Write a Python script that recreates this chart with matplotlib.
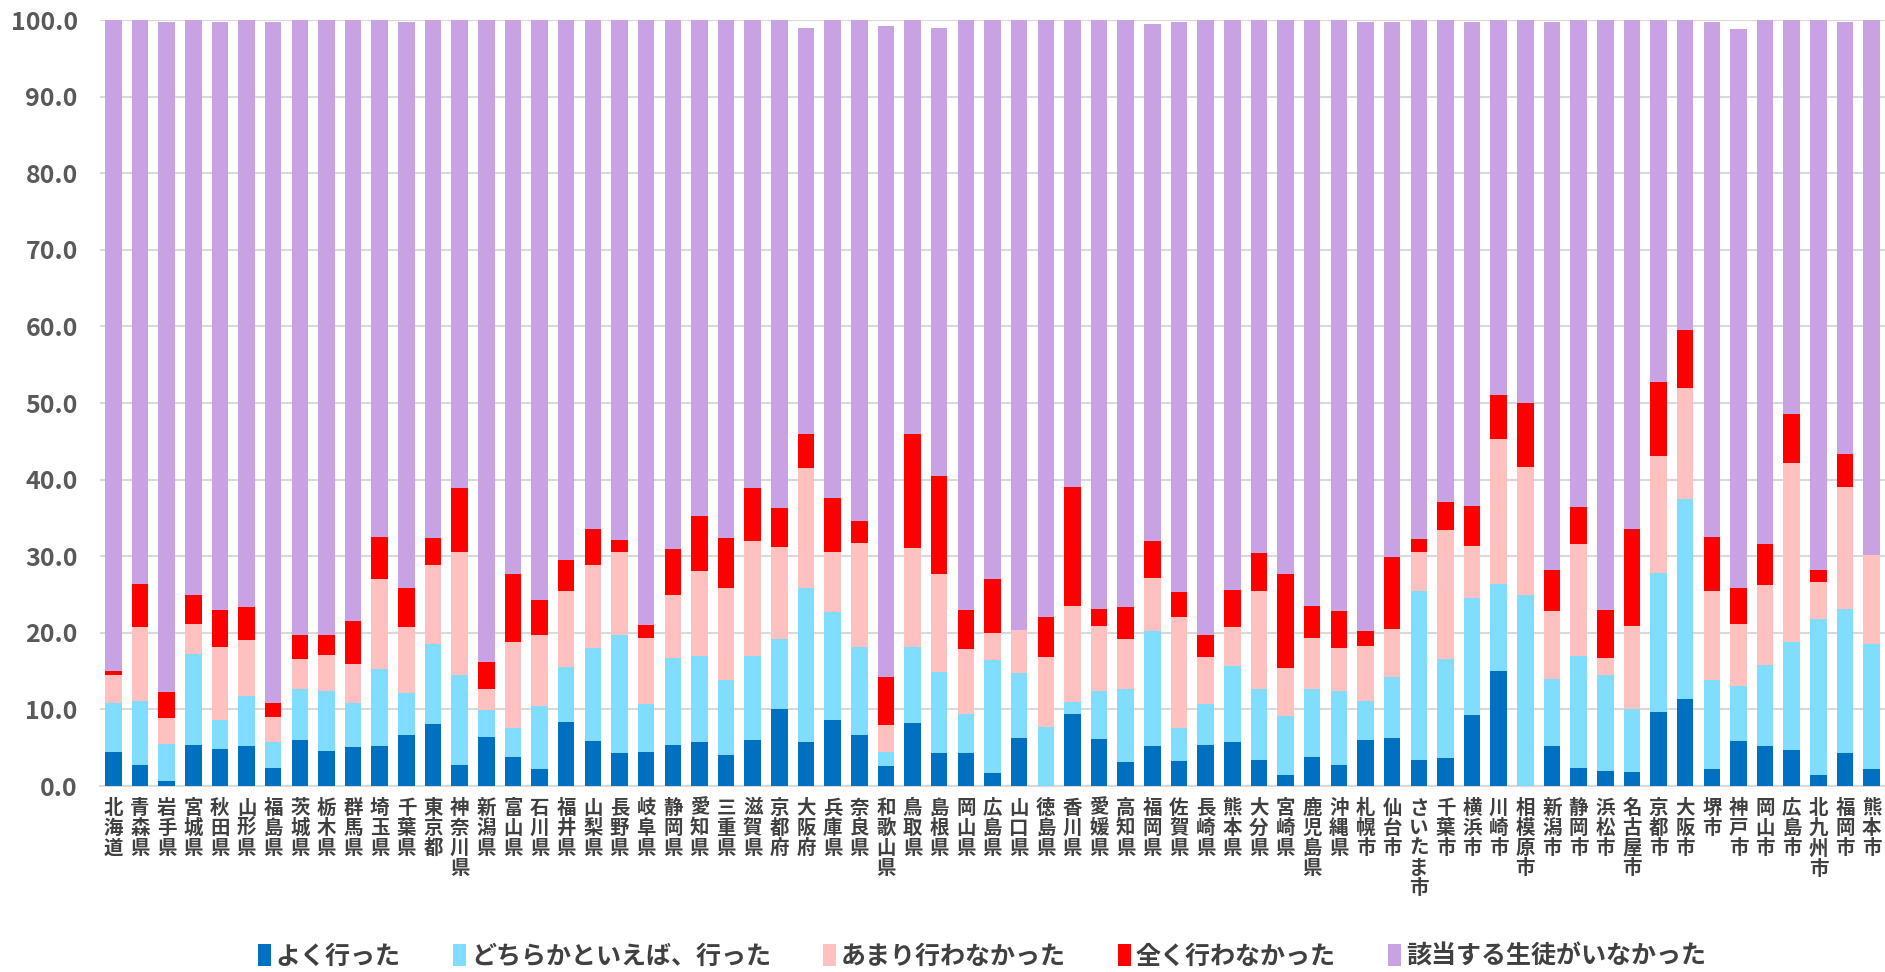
import numpy as np
import matplotlib
matplotlib.use("Agg")
import matplotlib.pyplot as plt

plt.rcParams['font.family'] = ['Noto Sans CJK JP', 'DejaVu Sans']

# categories (47 prefectures + 20 designated cities)
areas = ["北海道", "青森県", "岩手県", "宮城県", "秋田県", "山形県", "福島県", "茨城県", "栃木県", "群馬県",
         "埼玉県", "千葉県", "東京都", "神奈川県", "新潟県", "富山県", "石川県", "福井県", "山梨県", "長野県",
         "岐阜県", "静岡県", "愛知県", "三重県", "滋賀県", "京都府", "大阪府", "兵庫県", "奈良県", "和歌山県",
         "鳥取県", "島根県", "岡山県", "広島県", "山口県", "徳島県", "香川県", "愛媛県", "高知県", "福岡県",
         "佐賀県", "長崎県", "熊本県", "大分県", "宮崎県", "鹿児島県", "沖縄県",
         "札幌市", "仙台市", "さいたま市", "千葉市", "横浜市", "川崎市", "相模原市", "新潟市", "静岡市", "浜松市",
         "名古屋市", "京都市", "大阪市", "堺市", "神戸市", "岡山市", "広島市", "北九州市", "福岡市", "熊本市"]

# よく行った
often = [4.5, 2.7, 0.7, 5.4, 4.8, 5.2, 2.4, 6.0, 4.6, 5.1,
         5.2, 6.7, 8.1, 2.7, 6.4, 3.8, 2.2, 8.4, 5.9, 4.3,
         4.4, 5.4, 5.7, 4.0, 6.0, 10.1, 5.8, 8.6, 6.7, 2.6,
         8.2, 4.3, 4.3, 1.7, 6.3, 0.0, 9.4, 6.1, 3.1, 5.2,
         3.3, 5.4, 5.7, 3.4, 1.5, 3.8, 2.7,
         6.0, 6.3, 3.4, 3.7, 9.3, 15.0, 0.0, 5.2, 2.4, 2.0,
         1.8, 9.7, 11.4, 2.2, 5.9, 5.2, 4.7, 1.4, 4.3, 2.2]
# どちらかといえば、行った
rather = [6.3, 8.4, 4.8, 11.8, 3.8, 6.5, 3.3, 6.7, 7.8, 5.7,
          10.1, 5.4, 10.5, 11.8, 3.5, 3.8, 8.2, 7.1, 12.1, 15.4,
          6.3, 11.3, 11.3, 9.9, 11.0, 9.1, 20.1, 14.1, 11.5, 1.9,
          9.9, 10.6, 5.1, 14.8, 8.5, 7.7, 1.6, 6.3, 9.6, 15.1,
          4.3, 5.3, 10.0, 9.3, 7.7, 8.9, 9.7,
          5.1, 7.9, 22.0, 12.9, 15.3, 11.4, 24.9, 8.8, 14.6, 12.5,
          8.2, 18.1, 26.1, 11.7, 7.1, 10.6, 14.1, 20.4, 18.8, 16.3]
# あまり行わなかった
seldom = [3.7, 9.7, 3.4, 3.9, 9.6, 7.4, 3.3, 3.9, 4.7, 5.1,
          11.7, 8.6, 10.3, 16.1, 2.8, 11.2, 9.3, 9.9, 10.8, 10.9,
          8.6, 8.2, 11.1, 11.9, 15.0, 12.0, 15.6, 7.8, 13.5, 3.5,
          13.0, 12.8, 8.5, 3.5, 5.6, 9.2, 12.5, 8.5, 6.5, 6.8,
          14.5, 6.1, 5.0, 12.7, 6.2, 6.6, 5.6,
          7.2, 6.3, 5.1, 16.8, 6.7, 18.9, 16.8, 8.9, 14.6, 2.2,
          10.9, 15.3, 14.5, 11.6, 8.2, 10.5, 23.4, 4.8, 15.9, 11.7]
# 全く行わなかった
never = [0.5, 5.6, 3.4, 3.8, 4.8, 4.3, 1.8, 3.1, 2.6, 5.7,
         5.5, 5.1, 3.5, 8.3, 3.5, 8.9, 4.6, 4.1, 4.8, 1.5,
         1.7, 6.0, 7.1, 6.6, 6.9, 5.1, 4.4, 7.1, 2.9, 6.2,
         14.8, 12.8, 5.1, 7.0, 0.0, 5.2, 15.5, 2.2, 4.2, 4.9,
         3.2, 2.9, 4.9, 5.0, 12.3, 4.2, 4.8,
         2.0, 9.4, 1.7, 3.7, 5.3, 5.7, 8.3, 5.3, 4.8, 6.3,
         12.7, 9.7, 7.5, 7.0, 4.7, 5.3, 6.3, 1.6, 4.3, 0.0]
# 該当する生徒がいなかった
none_ = [85.0, 73.6, 87.5, 75.1, 76.8, 76.6, 88.9, 80.3, 80.3, 78.4,
         67.5, 73.9, 67.6, 61.1, 83.8, 72.3, 75.7, 70.5, 66.4, 67.9,
         79.0, 69.1, 64.8, 67.6, 61.1, 63.7, 53.1, 62.4, 65.4, 85.0,
         54.1, 58.5, 77.0, 73.0, 79.6, 77.9, 61.0, 76.9, 76.6, 67.5,
         74.5, 80.3, 74.4, 69.6, 72.3, 76.5, 77.2,
         79.5, 69.8, 67.8, 62.9, 63.2, 49.0, 50.0, 71.6, 63.6, 77.0,
         66.4, 47.2, 40.5, 67.3, 72.9, 68.4, 51.5, 71.8, 56.5, 69.8]

series = [
    ("よく行った", often, "#0070C0"),
    ("どちらかといえば、行った", rather, "#80DDFF"),
    ("あまり行わなかった", seldom, "#FFC0C0"),
    ("全く行わなかった", never, "#FF0000"),
    ("該当する生徒がいなかった", none_, "#C8A2E3"),
]

fig = plt.figure(figsize=(18.85, 9.72), dpi=100)
ax = fig.add_axes([100 / 1885, 186 / 972, 1785 / 1885, 766 / 972])

x = np.arange(len(areas))
bottom = np.zeros(len(areas))
for name, vals, col in series:
    vals = np.array(vals)
    ax.bar(x, vals, 0.62, bottom=bottom, color=col, label=name, zorder=3)
    bottom += vals

ax.set_xlim(-0.5, len(areas) - 0.5)
ax.set_ylim(0, 100)
ax.set_yticks(np.arange(0, 101, 10))
ax.set_yticklabels([f"{v:.1f}" for v in np.arange(0, 101, 10)])
ax.grid(axis="y", color="#d9d9d9", linewidth=1.5, zorder=0)
for s in ["top", "right", "left"]:
    ax.spines[s].set_visible(False)
ax.spines["bottom"].set_color("#d9d9d9")
ax.spines["bottom"].set_linewidth(1.5)

ax.set_xticks(x)
ax.set_xticklabels(["\n".join(a) for a in areas], fontsize=14, fontweight="bold",
                   color="#404040", linespacing=1.08, va="top")
ax.tick_params(axis="x", length=0, pad=9)
ax.tick_params(axis="y", length=0, pad=16, labelsize=18, labelcolor="#595959")
for t in ax.get_yticklabels():
    t.set_fontweight("bold")

fig.legend(loc="center", bbox_to_anchor=(0.521, 0.016), ncol=5, frameon=False,
           handlelength=0.5, handleheight=1.0, handletextpad=0.2,
           columnspacing=2.1, labelcolor="#404040", prop={"weight": "bold", "size": 18})

fig.savefig("out.png", dpi=100)
